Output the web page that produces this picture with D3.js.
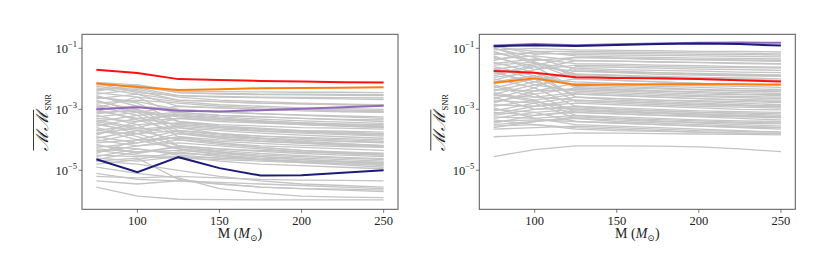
<!DOCTYPE html>
<html>
<head>
<meta charset="utf-8">
<script src="https://cdn.jsdelivr.net/npm/d3@7"></script>
<style>
  body { margin: 0; background: #fff; }
  text { font-family: "Liberation Serif", "DejaVu Serif", serif; fill: #222; }
</style>
</head>
<body>
<script>
// masses (x values) and the log10 of the mismatch for every curve
const masses = [75, 100, 125, 150, 175, 200, 225, 250];
const xTicks = [100, 150, 200, 250];
const yTickExps = [-1, -3, -5];

const leftRed    = [-1.70, -1.81, -2.01, -2.04, -2.07, -2.09, -2.11, -2.12];
const leftOrange = [-2.15, -2.27, -2.37, -2.34, -2.31, -2.30, -2.29, -2.28];
const leftPurple = [-3.00, -2.93, -3.05, -3.07, -3.03, -2.98, -2.93, -2.88];
const leftNavy   = [-4.64, -5.06, -4.57, -4.93, -5.17, -5.16, -5.08, -5.00];

const rightRed    = [-1.74, -1.80, -1.95, -1.97, -1.98, -2.01, -2.05, -2.09];
const rightOrange = [-2.13, -1.98, -2.20, -2.19, -2.18, -2.17, -2.18, -2.19];
const rightPurple = [-0.91, -0.86, -0.90, -0.87, -0.84, -0.82, -0.81, -0.82];
const rightNavy   = [-0.93, -0.90, -0.92, -0.89, -0.86, -0.84, -0.86, -0.91];

const leftGrey = [
  [-2.12, -2.20, -2.40, -2.42, -2.43, -2.44, -2.44, -2.45],
  [-2.20, -2.25, -2.45, -2.50, -2.52, -2.53, -2.54, -2.55],
  [-2.30, -2.50, -2.90, -2.95, -3.00, -3.05, -3.08, -3.10],
  [-2.35, -2.30, -2.55, -2.60, -2.62, -2.64, -2.66, -2.68],
  [-2.45, -2.60, -3.20, -3.30, -3.38, -3.45, -3.50, -3.55],
  [-2.50, -2.35, -2.60, -2.70, -2.75, -2.80, -2.83, -2.85],
  [-2.60, -2.80, -3.40, -3.55, -3.65, -3.72, -3.78, -3.82],
  [-2.65, -2.50, -2.70, -2.75, -2.80, -2.82, -2.85, -2.88],
  [-2.75, -3.00, -3.60, -3.80, -3.95, -4.05, -4.12, -4.20],
  [-2.80, -2.70, -2.80, -2.90, -2.95, -3.00, -3.02, -3.05],
  [-2.90, -3.20, -3.90, -4.10, -4.25, -4.35, -4.45, -4.50],
  [-3.00, -2.90, -3.00, -3.10, -3.15, -3.20, -3.25, -3.30],
  [-3.05, -3.30, -3.50, -3.60, -3.70, -3.75, -3.80, -3.85],
  [-3.10, -3.05, -3.20, -3.30, -3.38, -3.45, -3.50, -3.55],
  [-3.20, -3.50, -4.20, -4.40, -4.55, -4.65, -4.72, -4.80],
  [-3.25, -3.10, -2.90, -2.95, -3.00, -3.02, -3.05, -3.08],
  [-3.30, -3.40, -3.30, -3.40, -3.45, -3.50, -3.55, -3.60],
  [-3.35, -3.60, -3.80, -3.95, -4.05, -4.12, -4.18, -4.22],
  [-3.40, -3.20, -3.10, -3.20, -3.25, -3.30, -3.35, -3.40],
  [-3.50, -3.70, -4.00, -4.15, -4.25, -4.35, -4.40, -4.45],
  [-3.55, -3.30, -3.20, -3.30, -3.40, -3.50, -3.55, -3.60],
  [-3.60, -3.90, -4.30, -4.50, -4.65, -4.75, -4.82, -4.90],
  [-3.70, -3.50, -3.45, -3.55, -3.62, -3.70, -3.75, -3.80],
  [-3.75, -3.80, -3.70, -3.80, -3.88, -3.95, -4.00, -4.05],
  [-3.80, -3.60, -3.30, -3.35, -3.40, -3.45, -3.48, -3.50],
  [-3.90, -4.10, -3.90, -4.00, -4.05, -4.10, -4.15, -4.20],
  [-3.95, -3.70, -3.60, -3.70, -3.78, -3.85, -3.90, -3.95],
  [-4.00, -4.20, -4.10, -4.20, -4.30, -4.40, -4.45, -4.50],
  [-4.05, -3.80, -3.50, -3.60, -3.65, -3.70, -3.72, -3.75],
  [-4.10, -4.00, -4.30, -4.40, -4.50, -4.55, -4.60, -4.65],
  [-4.20, -4.30, -4.45, -4.50, -4.60, -4.65, -4.70, -4.75],
  [-4.25, -4.10, -3.80, -3.90, -3.95, -4.00, -4.05, -4.10],
  [-4.30, -4.40, -4.35, -4.45, -4.55, -4.60, -4.65, -4.70],
  [-4.35, -4.50, -4.55, -4.70, -4.80, -4.85, -4.90, -4.95],
  [-4.40, -4.20, -4.00, -4.10, -4.20, -4.25, -4.30, -4.35],
  [-4.50, -4.55, -4.60, -4.65, -4.70, -4.75, -4.78, -4.80],
  [-4.55, -4.30, -4.50, -4.60, -4.65, -4.70, -4.72, -4.75],
  [-4.60, -4.70, -4.55, -4.60, -4.65, -4.70, -4.72, -4.75],
  [-4.70, -4.60, -5.30, -5.45, -5.55, -5.60, -5.65, -5.70],
  [-4.70, -4.80, -5.00, -5.20, -5.35, -5.45, -5.50, -5.55],
  [-4.90, -5.10, -5.25, -5.60, -5.75, -5.85, -5.88, -5.90],
  [-5.10, -5.30, -5.35, -5.45, -5.55, -5.60, -5.62, -5.65],
  [-5.20, -5.25, -5.20, -5.25, -5.30, -5.32, -5.33, -5.35],
  [-5.35, -5.45, -5.35, -5.40, -5.45, -5.50, -5.55, -5.60],
  [-5.55, -5.85, -5.95, -5.96, -5.97, -5.97, -5.97, -5.97],
  [-2.25, -2.40, -2.70, -2.75, -2.80, -2.82, -2.84, -2.86],
  [-2.55, -2.90, -3.10, -3.20, -3.25, -3.30, -3.33, -3.35],
  [-2.70, -3.10, -3.70, -3.85, -3.95, -4.00, -4.05, -4.08],
  [-3.15, -3.00, -3.40, -3.50, -3.55, -3.60, -3.62, -3.65],
  [-3.45, -3.80, -4.20, -4.30, -4.35, -4.40, -4.42, -4.45],
  [-3.65, -4.00, -3.95, -4.05, -4.12, -4.18, -4.22, -4.25],
  [-2.15, -2.45, -2.55, -2.58, -2.60, -2.61, -2.62, -2.63],
  [-2.40, -2.20, -2.45, -2.48, -2.50, -2.50, -2.51, -2.52],
  [-2.85, -3.10, -3.25, -3.35, -3.42, -3.48, -3.52, -3.58],
  [-2.95, -2.60, -2.75, -2.85, -2.90, -2.95, -2.98, -3.00],
  [-3.40, -3.65, -3.55, -3.65, -3.72, -3.78, -3.83, -3.88],
  [-3.85, -3.40, -3.15, -3.25, -3.32, -3.38, -3.42, -3.46],
  [-4.15, -4.45, -4.20, -4.30, -4.38, -4.45, -4.50, -4.55],
  [-4.45, -4.00, -3.70, -3.80, -3.88, -3.92, -3.96, -4.00],
  [-4.65, -4.40, -4.25, -4.35, -4.45, -4.52, -4.58, -4.62],
  [-4.80, -4.65, -4.40, -4.55, -4.65, -4.72, -4.78, -4.85],
  [-3.00, -3.35, -3.75, -3.90, -4.00, -4.08, -4.14, -4.18],
  [-2.60, -2.75, -3.00, -3.08, -3.14, -3.18, -3.22, -3.25]
];

const rightGrey = [
  [-0.95, -1.10, -1.25, -1.28, -1.30, -1.32, -1.33, -1.35],
  [-1.00, -1.30, -1.70, -1.75, -1.80, -1.85, -1.88, -1.90],
  [-1.05, -1.00, -1.05, -1.07, -1.08, -1.10, -1.10, -1.12],
  [-1.10, -1.50, -2.00, -2.05, -2.10, -2.15, -2.18, -2.20],
  [-1.20, -1.15, -1.20, -1.22, -1.23, -1.25, -1.26, -1.28],
  [-1.30, -1.60, -2.30, -2.35, -2.40, -2.45, -2.50, -2.52],
  [-1.35, -1.25, -1.40, -1.42, -1.44, -1.46, -1.48, -1.50],
  [-1.45, -1.80, -2.60, -2.70, -2.75, -2.80, -2.85, -2.90],
  [-1.50, -1.35, -1.50, -1.52, -1.55, -1.57, -1.60, -1.62],
  [-1.60, -1.90, -2.20, -2.25, -2.30, -2.35, -2.38, -2.40],
  [-1.70, -1.50, -1.65, -1.70, -1.72, -1.75, -1.78, -1.80],
  [-1.80, -2.10, -2.50, -2.55, -2.60, -2.65, -2.70, -2.75],
  [-1.90, -1.60, -1.75, -1.80, -1.85, -1.88, -1.90, -1.92],
  [-2.00, -2.30, -2.90, -3.00, -3.05, -3.10, -3.15, -3.20],
  [-2.05, -1.70, -1.40, -1.42, -1.45, -1.47, -1.50, -1.52],
  [-2.15, -2.00, -2.10, -2.15, -2.20, -2.22, -2.25, -2.28],
  [-2.20, -2.50, -3.10, -3.15, -3.20, -3.25, -3.30, -3.35],
  [-2.30, -2.00, -1.85, -1.90, -1.95, -1.98, -2.00, -2.05],
  [-2.35, -2.40, -2.35, -2.40, -2.45, -2.50, -2.52, -2.55],
  [-2.45, -2.70, -3.20, -3.30, -3.38, -3.45, -3.50, -3.55],
  [-2.50, -2.20, -2.00, -2.05, -2.10, -2.15, -2.18, -2.20],
  [-2.55, -2.60, -2.70, -2.75, -2.80, -2.85, -2.88, -2.90],
  [-2.65, -2.30, -1.60, -1.62, -1.65, -1.68, -1.70, -1.72],
  [-2.70, -2.80, -3.30, -3.40, -3.45, -3.50, -3.55, -3.60],
  [-2.75, -2.50, -2.30, -2.35, -2.40, -2.42, -2.45, -2.48],
  [-2.85, -2.90, -2.80, -2.85, -2.90, -2.95, -3.00, -3.02],
  [-2.90, -2.70, -2.50, -2.55, -2.60, -2.65, -2.68, -2.70],
  [-3.00, -3.10, -3.40, -3.45, -3.50, -3.55, -3.60, -3.65],
  [-3.05, -2.80, -2.60, -2.65, -2.70, -2.75, -2.80, -2.85],
  [-3.10, -3.20, -3.10, -3.15, -3.20, -3.22, -3.25, -3.28],
  [-3.20, -3.00, -2.90, -2.95, -3.00, -3.05, -3.08, -3.10],
  [-3.25, -3.30, -3.50, -3.55, -3.60, -3.65, -3.70, -3.75],
  [-3.30, -3.10, -3.00, -3.05, -3.10, -3.15, -3.20, -3.25],
  [-3.40, -3.35, -3.40, -3.45, -3.50, -3.55, -3.58, -3.60],
  [-3.50, -3.40, -3.30, -3.35, -3.40, -3.42, -3.45, -3.48],
  [-3.55, -3.50, -3.60, -3.65, -3.70, -3.75, -3.78, -3.80],
  [-3.65, -3.60, -3.55, -3.60, -3.65, -3.70, -3.72, -3.75],
  [-3.90, -3.85, -3.77, -3.78, -3.80, -3.81, -3.82, -3.84],
  [-4.55, -4.32, -4.20, -4.20, -4.21, -4.23, -4.30, -4.39],
  [-1.15, -1.40, -1.30, -1.32, -1.35, -1.37, -1.38, -1.40],
  [-1.25, -1.70, -1.55, -1.57, -1.60, -1.62, -1.63, -1.65],
  [-1.55, -1.45, -1.90, -1.95, -2.00, -2.02, -2.05, -2.08],
  [-1.75, -2.20, -2.40, -2.45, -2.50, -2.55, -2.58, -2.60],
  [-2.10, -1.90, -2.60, -2.65, -2.70, -2.72, -2.75, -2.78],
  [-2.60, -3.00, -2.95, -3.00, -3.05, -3.10, -3.12, -3.15],
  [-2.95, -3.30, -3.20, -3.25, -3.30, -3.35, -3.38, -3.40],
  [-3.35, -3.50, -3.65, -3.70, -3.72, -3.75, -3.78, -3.80],
  [-0.92, -1.20, -1.15, -1.17, -1.18, -1.20, -1.20, -1.22],
  [-0.98, -1.45, -1.85, -1.88, -1.92, -1.95, -1.97, -2.00],
  [-1.40, -1.10, -1.10, -1.12, -1.13, -1.15, -1.16, -1.18],
  [-1.65, -2.00, -2.75, -2.80, -2.85, -2.90, -2.93, -2.96],
  [-1.95, -1.80, -2.25, -2.30, -2.33, -2.36, -2.40, -2.42],
  [-2.25, -2.60, -2.45, -2.50, -2.55, -2.58, -2.62, -2.65],
  [-2.40, -2.10, -1.75, -1.78, -1.80, -1.82, -1.85, -1.87],
  [-2.80, -2.40, -2.15, -2.20, -2.25, -2.28, -2.32, -2.35],
  [-3.15, -2.90, -2.70, -2.75, -2.80, -2.84, -2.88, -2.92],
  [-3.45, -3.20, -3.05, -3.10, -3.15, -3.18, -3.22, -3.26],
  [-3.60, -3.40, -3.25, -3.30, -3.34, -3.38, -3.42, -3.45],
  [-1.85, -1.55, -1.30, -1.33, -1.36, -1.38, -1.40, -1.43],
  [-2.50, -2.75, -3.00, -3.08, -3.12, -3.16, -3.20, -3.24]
];

const W = 830, H = 277;
const panelW = 316, panelH = 175;

const svg = d3.select("body")
  .append("svg")
  .attr("width", W)
  .attr("height", H);

const x = d3.scaleLinear().domain([66.25, 258.75]).range([0, panelW]);
const y = d3.scaleLog().domain([Math.pow(10, -6.28), Math.pow(10, -0.54)]).range([panelH, 0]);

const line = d3.line()
  .x((d, i) => x(masses[i]))
  .y(d => y(Math.pow(10, d)));

function drawPanel(left, top, grey, highlights) {
  const g = svg.append("g").attr("transform", `translate(${left},${top})`);

  g.append("defs").append("clipPath")
    .attr("id", "clip" + left)
    .append("rect")
    .attr("width", panelW)
    .attr("height", panelH);

  const plot = g.append("g").attr("clip-path", `url(#clip${left})`);

  plot.selectAll("path.grey")
    .data(grey)
    .enter()
    .append("path")
    .attr("class", "grey")
    .attr("d", line)
    .attr("fill", "none")
    .attr("stroke", "#c4c4c4")
    .attr("stroke-width", 1.3);

  plot.selectAll("path.hl")
    .data(highlights)
    .enter()
    .append("path")
    .attr("class", "hl")
    .attr("d", d => line(d.values))
    .attr("fill", "none")
    .attr("stroke", d => d.color)
    .attr("stroke-width", 2);

  // frame
  g.append("rect")
    .attr("width", panelW)
    .attr("height", panelH)
    .attr("fill", "none")
    .attr("stroke", "#555")
    .attr("stroke-width", 1);

  // x ticks
  const xt = g.selectAll("g.xt")
    .data(xTicks)
    .enter()
    .append("g")
    .attr("transform", d => `translate(${x(d)},${panelH})`);
  xt.append("line").attr("y2", 3.5).attr("stroke", "#555").attr("stroke-width", 0.8);
  xt.append("text")
    .attr("y", 15.5)
    .attr("text-anchor", "middle")
    .style("font-size", "12.5px")
    .text(d => d);

  // y ticks
  const yt = g.selectAll("g.yt")
    .data(yTickExps)
    .enter()
    .append("g")
    .attr("transform", d => `translate(0,${y(Math.pow(10, d))})`);
  yt.append("line").attr("x2", -3.5).attr("stroke", "#555").attr("stroke-width", 0.8);
  const yl = yt.append("text")
    .attr("x", -5)
    .attr("y", 4.5)
    .attr("text-anchor", "end")
    .style("font-size", "12.5px");
  yl.append("tspan").text("10");
  yl.append("tspan")
    .attr("dy", -5.5)
    .style("font-size", "8.5px")
    .text(d => "\u2212" + Math.abs(d));

  // x label
  const xl = g.append("text")
    .attr("x", panelW / 2)
    .attr("y", 203.5)
    .attr("text-anchor", "middle")
    .style("font-size", "14px");
  xl.append("tspan").text("M (");
  xl.append("tspan").style("font-style", "italic").text("M");
  xl.append("tspan").attr("dy", 3).style("font-size", "9px").text("\u2299");
  xl.append("tspan").attr("dy", -3).text(")");

  // y label
  const ylab = g.append("g").attr("transform", `translate(-34,${88}) rotate(-90)`);
  const yt2 = ylab.append("text")
    .attr("text-anchor", "middle")
    .style("font-size", "17px");
  yt2.append("tspan").style("font-style", "italic").text("\u2133\u2133");
  yt2.append("tspan").attr("dy", 3).style("font-size", "8.5px").text("SNR");
  const bb = yt2.node().getBBox();
  ylab.append("line")
    .attr("x1", bb.x)
    .attr("x2", bb.x + bb.width - 16)
    .attr("y1", -14.5)
    .attr("y2", -14.5)
    .attr("stroke", "#222")
    .attr("stroke-width", 0.9);
}

drawPanel(82, 34.3, leftGrey, [
  { values: leftOrange, color: "#ff7f0e" },
  { values: leftRed, color: "#ff1010" },
  { values: leftPurple, color: "#9467bd" },
  { values: leftNavy, color: "#1c1c78" }
]);

drawPanel(479.3, 34.3, rightGrey, [
  { values: rightOrange, color: "#ff7f0e" },
  { values: rightRed, color: "#ff1010" },
  { values: rightPurple, color: "#9467bd" },
  { values: rightNavy, color: "#1c1c78" }
]);
</script>
</body>
</html>
